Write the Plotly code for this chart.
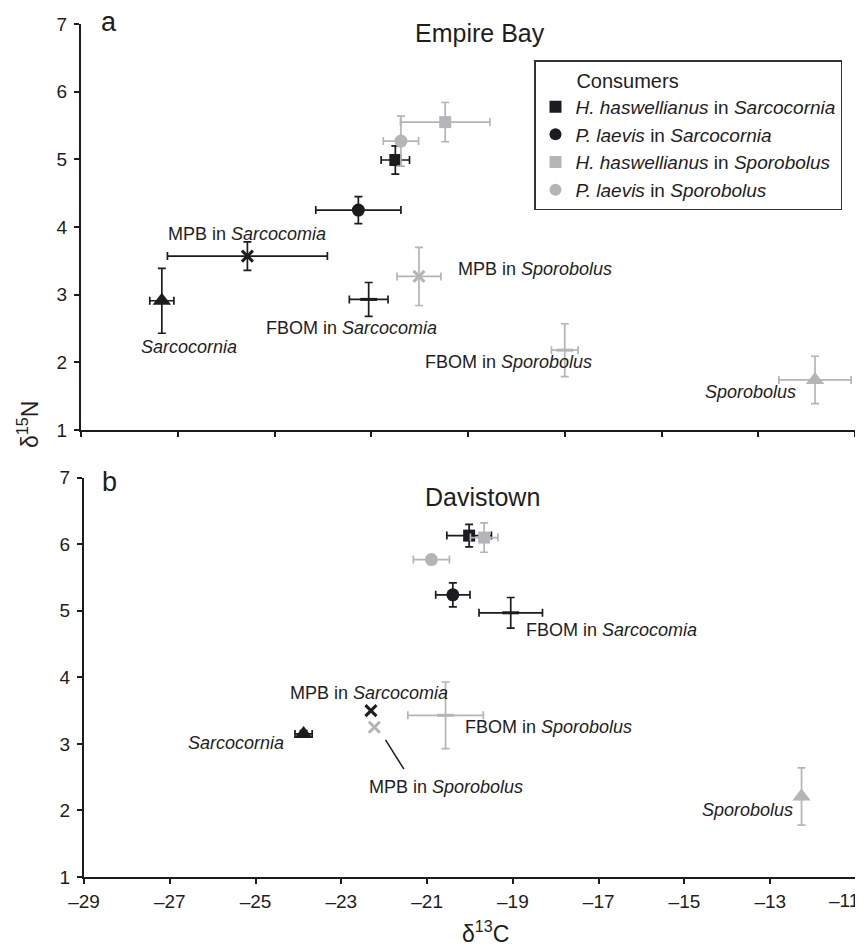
import plotly.graph_objects as go

# ---------------- data ----------------
series_names = [
    "H. haswellianus in Sarcocornia",
    "P. laevis in Sarcocornia",
    "H. haswellianus in Sporobolus",
    "P. laevis in Sporobolus",
    "Sarcocornia",
    "MPB in Sarcocornia",
    "FBOM in Sarcocornia",
    "Sporobolus",
    "MPB in Sporobolus",
    "FBOM in Sporobolus",
]

# Panel a: Empire Bay  (mean d13C, mean d15N, SE)
a_x = [-21.69, -22.55, -20.53, -21.56, -27.12, -25.13, -22.31, -11.93, -21.14, -17.75]
a_y = [4.99, 4.25, 5.55, 5.27, 2.91, 3.57, 2.93, 1.74, 3.27, 2.18]
a_xerr = [0.33, 0.99, 1.04, 0.41, 0.28, 1.86, 0.45, 0.84, 0.51, 0.31]
a_yerr = [0.21, 0.20, 0.29, 0.37, 0.48, 0.21, 0.25, 0.35, 0.43, 0.39]

# Panel b: Davistown
b_x = [-20.02, -20.40, -19.67, -20.90, -23.88, -22.31, -19.05, -12.27, -22.23, -20.57]
b_y = [6.13, 5.24, 6.10, 5.77, 3.15, 3.50, 4.97, 2.21, 3.25, 3.43]
b_xerr = [0.52, 0.40, 0.32, 0.42, 0.20, 0.0, 0.74, 0.05, 0.0, 0.88]
b_yerr = [0.17, 0.18, 0.22, 0.0, 0.05, 0.0, 0.23, 0.43, 0.0, 0.50]

legend_labels = [
    "<i>H. haswellianus</i> in <i>Sarcocornia</i>",
    "<i>P. laevis</i> in <i>Sarcocornia</i>",
    "<i>H. haswellianus</i> in <i>Sporobolus</i>",
    "<i>P. laevis</i> in <i>Sporobolus</i>",
]

x_ticks = [-29, -27, -25, -23, -21, -19, -17, -15, -13, -11]
y_ticks = [1, 2, 3, 4, 5, 6, 7]
a_x_ticks = [-29 + 2.25 * k for k in range(9)]

# ---------------- styles ----------------
BLACK = "#1c1c20"
GREY = "#b4b5b8"
TXT = "#1e1e1e"
FONT = "Liberation Sans, Arial, Helvetica, sans-serif"

styles = [
    dict(symbol="square", color=BLACK, size=12),
    dict(symbol="circle", color=BLACK, size=13),
    dict(symbol="square", color=GREY, size=12),
    dict(symbol="circle", color=GREY, size=13),
    dict(symbol="triangle-up", color=BLACK, size=16),
    dict(symbol="x-thin-open", color=BLACK, size=11),
    dict(symbol="line-ew-open", color=BLACK, size=12),
    dict(symbol="triangle-up", color=GREY, size=16),
    dict(symbol="x-thin-open", color=GREY, size=11),
    dict(symbol="line-ew-open", color=GREY, size=12),
]

fig = go.Figure()


def add_panel(xs, ys, xe, ye, xa, ya, legend):
    for i, name in enumerate(series_names):
        st = styles[i]
        open_sym = st["symbol"].endswith("open")
        marker = dict(symbol=st["symbol"], size=st["size"], color=st["color"],
                      line=dict(color=st["color"], width=3 if open_sym else 0))
        fig.add_trace(go.Scatter(
            x=[xs[i]], y=[ys[i]], mode="markers", xaxis=xa, yaxis=ya,
            name=legend_labels[i] if i < 4 else name,
            showlegend=(legend and i < 4),
            marker=marker,
            error_x=dict(type="data", array=[xe[i]], visible=xe[i] > 0,
                         color=st["color"], thickness=1.7, width=4),
            error_y=dict(type="data", array=[ye[i]], visible=ye[i] > 0,
                         color=st["color"], thickness=1.7, width=4),
            cliponaxis=False,
        ))


add_panel(a_x, a_y, a_xerr, a_yerr, "x", "y", True)
add_panel(b_x, b_y, b_xerr, b_yerr, "x2", "y2", False)

W, H = 863, 947
OFF = 8  # page body margin


def px(v):
    return (v - OFF) / W


def py(v):
    return 1 - (v - OFF) / H


axis_common = dict(showline=True, linecolor=BLACK, linewidth=2, ticks="outside",
                   ticklen=5, tickwidth=2, tickcolor=BLACK, showgrid=False,
                   zeroline=False, automargin=False,
                   tickfont=dict(family=FONT, size=19, color=TXT))

x_ticktext = [f"\u2013{abs(v)}" for v in x_ticks]
last_label = x_ticktext[-1]
x_ticktext[-1] = ""  # last label drawn as annotation so it stays inside the page

fig.update_layout(
    template="none",
    width=W, height=H,
    margin=dict(l=0, r=0, t=0, b=0, autoexpand=False),
    paper_bgcolor="white", plot_bgcolor="white",
    font=dict(family=FONT, color=TXT),
    xaxis=dict(domain=[px(81), px(855)], range=[-29, -11], anchor="y",
               tickvals=a_x_ticks, showticklabels=False, **axis_common),
    yaxis=dict(domain=[py(430), py(24)], range=[1, 7], anchor="x",
               tickvals=y_ticks, ticklabelstandoff=3, **axis_common),
    xaxis2=dict(domain=[px(84), px(856)], range=[-29, -11], anchor="y2",
                tickvals=x_ticks, ticklabelstandoff=1,
                ticktext=x_ticktext, **axis_common),
    yaxis2=dict(domain=[py(877), py(477.7)], range=[1, 7], anchor="x2",
                tickvals=y_ticks, ticklabelstandoff=3, **axis_common),
    legend=dict(x=px(534), y=py(60.3), xanchor="left", yanchor="top",
                bordercolor="#333", borderwidth=1.5, bgcolor="white",
                font=dict(family=FONT, size=19, color=TXT),
                title=dict(text="\u00a0" * 7 + "Consumers",
                           font=dict(family=FONT, size=20, color=TXT)),
                tracegroupgap=0, itemsizing="constant"),
    showlegend=True,
)

anns = []


def lab(text, x, y, xref, yref, size=18, **kw):
    anns.append(dict(text=text, x=x, y=y, xref=xref, yref=yref, showarrow=False,
                     xanchor="center", yanchor="middle",
                     font=dict(family=FONT, size=size, color=TXT), **kw))


# Panel a labels
lab("<i>Sarcocornia</i>", -26.49, 2.23, "x", "y")
lab("MPB in <i>Sarcocomia</i>", -25.14, 3.90, "x", "y")
lab("FBOM in <i>Sarcocomia</i>", -22.72, 2.51, "x", "y")
lab("MPB in <i>Sporobolus</i>", -18.44, 3.38, "x", "y")
lab("FBOM in <i>Sporobolus</i>", -19.05, 2.00, "x", "y")
lab("<i>Sporobolus</i>", -13.42, 1.56, "x", "y")
# Panel b labels
lab("<i>Sarcocornia</i>", -25.46, 3.01, "x2", "y2")
lab("MPB in <i>Sarcocomia</i>", -22.35, 3.76, "x2", "y2")
lab("MPB in <i>Sporobolus</i>", -20.56, 2.35, "x2", "y2")
lab("FBOM in <i>Sporobolus</i>", -18.18, 3.25, "x2", "y2")
lab("FBOM in <i>Sarcocomia</i>", -16.69, 4.71, "x2", "y2")
lab("<i>Sporobolus</i>", -13.53, 2.01, "x2", "y2")

# last x tick label, nudged inside the page
lab(last_label, px(844), py(900.5), "paper", "paper", size=19)

# Titles and panel letters
lab("Empire Bay", px(480), py(33), "paper", "paper", size=25)
lab("Davistown", px(483), py(496.7), "paper", "paper", size=25)
lab("a", px(109), py(22), "paper", "paper", size=27)
lab("b", px(109), py(482), "paper", "paper", size=27)
# Axis titles
lab("\u03b4<sup>15</sup>N", px(28), py(425), "paper", "paper", size=23, textangle=-90)
lab("\u03b4<sup>13</sup>C", px(485), py(932), "paper", "paper", size=23)

fig.update_layout(annotations=anns)

# leader line for MPB in Sporobolus (panel b)
fig.add_shape(type="line", xref="x2", yref="y2", x0=-21.97, y0=3.06, x1=-21.54, y1=2.62,
              line=dict(color=BLACK, width=1.5))

fig.write_html("out.html")
